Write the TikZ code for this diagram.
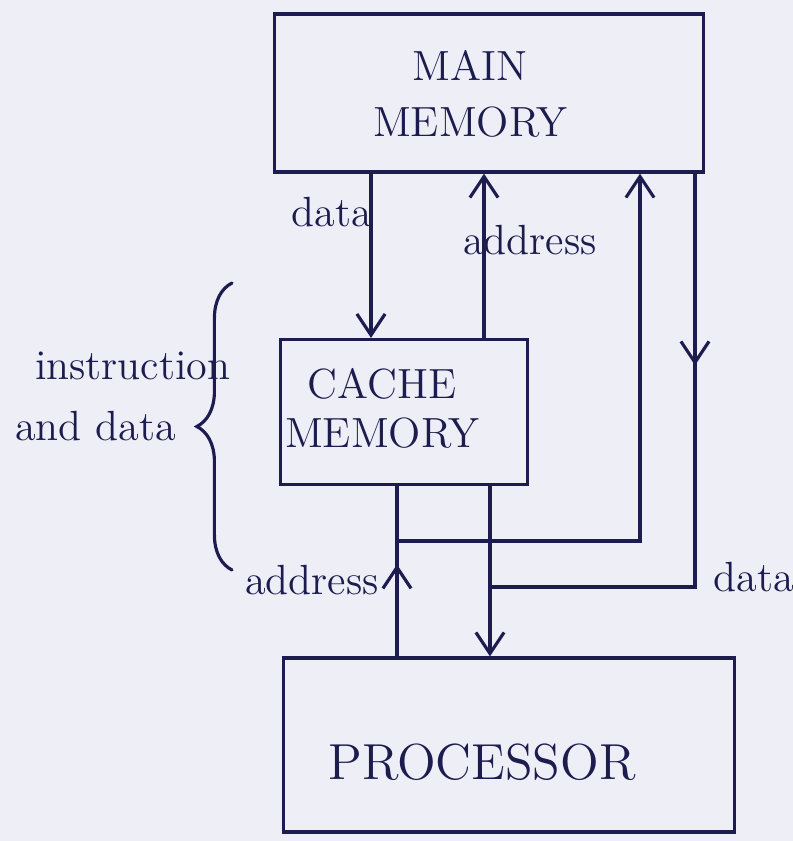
\documentclass[tikz,border=0pt]{standalone}
\usetikzlibrary{arrows.meta,decorations.pathreplacing,decorations.markings}

\definecolor{ink}{RGB}{28,28,78}
\definecolor{paper}{RGB}{238,238,247}

\begin{document}
\begin{tikzpicture}[
  x=0.01cm,
  y=-0.01cm,
  line width=0.9pt,
  line cap=round
]

  % styles for units, labels and buses
  \tikzset{
    unit/.style={draw=ink, inner sep=0pt},
    unitname/.style={text=ink, font=\large, align=center},
    lbl/.style={text=ink, font=\large, inner sep=1pt},
    flow/.style={draw=ink, -{Straight Barb[length=6pt,width=8pt]}},
    bus/.style={draw=ink},
    midtip/.style={postaction={decorate},
      decoration={markings, mark=at position #1 with {\arrow{Straight Barb[length=6pt,width=8pt]}}}}
  }

  % paper
  \fill[paper] (0,0) rectangle (793,841);
  \useasboundingbox (0,0) rectangle (793,841);

  % the three units
  \node[unit, minimum width=4.28cm, minimum height=1.58cm] (main)  at (489,93)  {};
  \node[unit, minimum width=2.47cm, minimum height=1.45cm] (cache) at (404,412) {};
  \node[unit, minimum width=4.51cm, minimum height=1.74cm] (proc)  at (509,745) {};

  \node[unitname] (mainname)  at (470,94)  {MAIN\\[2pt]MEMORY};
  \node[unitname] (cachename) at (382,408) {CACHE\\MEMORY};
  \node[unitname, font=\Large] (procname) at (482,762) {PROCESSOR};

  % columns and rows of the buses
  \coordinate (c1) at (371,0);
  \coordinate (c2) at (484,0);
  \coordinate (c3) at (397,0);
  \coordinate (c4) at (490,0);
  \coordinate (c5) at (640,0);
  \coordinate (c6) at (695,0);
  \coordinate (r1) at (0,541);
  \coordinate (r2) at (0,587);

  % junctions
  \coordinate (ja) at (c3 |- r1);
  \coordinate (jb) at (c5 |- r1);
  \coordinate (jc) at (c4 |- r2);
  \coordinate (jd) at (c6 |- r2);

  % main memory <-> cache
  \draw[flow] (main.south -| c1) -- (cache.north -| c1);
  \draw[flow] (cache.north -| c2) -- (main.south -| c2);

  % cache <-> processor
  \draw[bus, midtip=0.54] (proc.north -| c3) -- (cache.south -| c3);
  \draw[flow] (cache.south -| c4) -- (proc.north -| c4);

  % processor <-> main memory, round the cache
  \draw[flow] (ja) -- (jb) -- (main.south -| c5);
  \draw[bus, midtip=0.31] (main.south -| c6) -- (jd) -- (jc);

  % brace
  \draw[ink, decorate, decoration={brace, amplitude=10pt}]
    (232,570) -- (232,283);

  % labels
  \node[lbl] (ldata1) at (332,212) {data};
  \node[lbl] (laddr1) at (530,240) {address};
  \node[lbl, anchor=west] (linstr) at (30,366) {instruction};
  \node[lbl, anchor=west] (landd) at (10,426) {and data};
  \node[lbl, anchor=east] (laddr2) at (384,580) {address};
  \node[lbl] (ldata2) at (754,577) {data};

\end{tikzpicture}
\end{document}
